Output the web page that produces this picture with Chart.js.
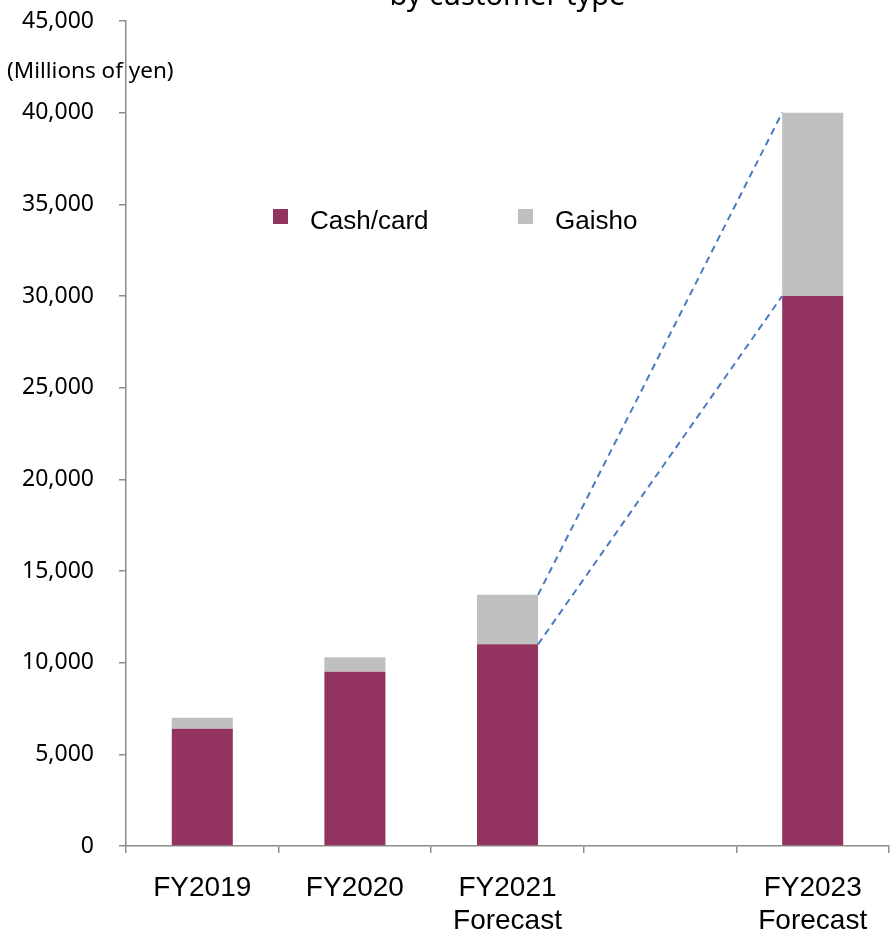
<!DOCTYPE html>
<html>
<head>
<meta charset="utf-8">
<title>by customer type</title>
<script src="https://cdn.jsdelivr.net/npm/chart.js@4.4.1/dist/chart.umd.min.js"></script>
<style>
  html, body { margin: 0; padding: 0; background: #ffffff; }
  .chart-wrap { position: relative; width: 891px; height: 934px; }
</style>
</head>
<body>
<div class="chart-wrap">
  <canvas id="customer-chart"></canvas>
</div>
<script>
const categories = ["FY2019", "FY2020", ["FY2021", "Forecast"], "", ["FY2023", "Forecast"]];
const cashCard = [6400, 9500, 11000, null, 30000];
const gaisho = [600, 800, 2700, null, 10000];
const yTicks = [0, 5000, 10000, 15000, 20000, 25000, 30000, 35000, 40000, 45000];

const CASH_COLOR = "#933460";
const GAISHO_COLOR = "#bfbfbf";
const AXIS_COLOR = "#8c8c8c";
const LINK_COLOR = "#4a7ac4";

const ctx = document.getElementById("customer-chart");

// Title (only the second line shows), unit note and the legend inside the plot
const decorations = {
  id: "decorations",
  afterDraw(chart) {
    const { ctx, chartArea } = chart;
    ctx.save();
    ctx.fillStyle = "#000000";

    ctx.font = '29px "Noto Sans"';
    ctx.textAlign = "center";
    ctx.textBaseline = "alphabetic";
    ctx.fillText("by customer type", (chartArea.left + chartArea.right) / 2, chartArea.top - 16);

    ctx.font = '22.5px "Noto Sans"';
    ctx.textAlign = "left";
    ctx.textBaseline = "middle";
    ctx.fillText("(Millions of yen)", 7, chartArea.top + 51);

    const items = [
      { x: chartArea.left + 147, ds: chart.data.datasets[0] },
      { x: chartArea.left + 392, ds: chart.data.datasets[1] },
    ];
    ctx.font = '26px "Liberation Sans", Arial, sans-serif';
    items.forEach((item) => {
      ctx.fillStyle = item.ds.backgroundColor;
      ctx.fillRect(item.x, chartArea.top + 188, 15, 15);
      ctx.fillStyle = "#000000";
      ctx.fillText(item.ds.label, item.x + 37, chartArea.top + 201);
    });
    ctx.restore();
  },
};

// Dashed links from the FY2021 bar to the FY2023 bar
const forecastLinks = {
  id: "forecastLinks",
  afterDatasetsDraw(chart) {
    const { ctx } = chart;
    const yScale = chart.scales.y;
    const bars = chart.getDatasetMeta(0).data;
    const from = 2;
    const to = 4;
    const fromRight = bars[from].x + bars[from].width / 2;
    const toLeft = bars[to].x - bars[to].width / 2;
    const levels = [
      [cashCard[from] + gaisho[from], cashCard[to] + gaisho[to]],
      [cashCard[from], cashCard[to]],
    ];
    ctx.save();
    ctx.strokeStyle = LINK_COLOR;
    ctx.lineWidth = 2;
    ctx.setLineDash([7, 5]);
    levels.forEach(([a, b]) => {
      ctx.beginPath();
      ctx.moveTo(fromRight, yScale.getPixelForValue(a));
      ctx.lineTo(toLeft, yScale.getPixelForValue(b));
      ctx.stroke();
    });
    ctx.restore();
  },
};

new Chart(ctx, {
  type: "bar",
  data: {
    labels: categories,
    datasets: [
      {
        label: "Cash/card",
        data: cashCard,
        backgroundColor: CASH_COLOR,
        barPercentage: 0.4,
        categoryPercentage: 1,
      },
      {
        label: "Gaisho",
        data: gaisho,
        backgroundColor: GAISHO_COLOR,
        barPercentage: 0.4,
        categoryPercentage: 1,
      },
    ],
  },
  options: {
    responsive: true,
    maintainAspectRatio: false,
    animation: false,
    layout: {
      padding: { top: 21, right: 2, bottom: 0, left: 0 },
    },
    scales: {
      x: {
        stacked: true,
        afterFit: (scale) => {
          scale.height = 88;
        },
        grid: {
          offset: true,
          drawOnChartArea: false,
          tickLength: 7,
          color: AXIS_COLOR,
          lineWidth: 1.5,
        },
        border: { color: AXIS_COLOR, width: 1.5 },
        ticks: {
          color: "#000000",
          padding: 18,
          maxRotation: 0,
          autoSkip: false,
          font: { family: '"Liberation Sans", Arial, sans-serif', size: 28, lineHeight: 1.2 },
        },
      },
      y: {
        stacked: true,
        min: 0,
        max: 45000,
        afterFit: (scale) => {
          scale.width = 126;
          scale.paddingTop = 0;
          scale.paddingBottom = 0;
        },
        afterBuildTicks: (scale) => {
          scale.ticks = yTicks.map((v) => ({ value: v }));
        },
        grid: {
          drawOnChartArea: false,
          tickLength: 7,
          color: AXIS_COLOR,
          lineWidth: 1.5,
        },
        border: { color: AXIS_COLOR, width: 1.5 },
        ticks: {
          color: "#000000",
          padding: 25,
          font: { family: '"Noto Sans"', size: 23 },
          callback: (value) => value.toLocaleString("en-US"),
        },
      },
    },
    plugins: {
      legend: { display: false },
      title: { display: false },
      tooltip: { enabled: false },
    },
  },
  plugins: [forecastLinks, decorations],
});
</script>
</body>
</html>
